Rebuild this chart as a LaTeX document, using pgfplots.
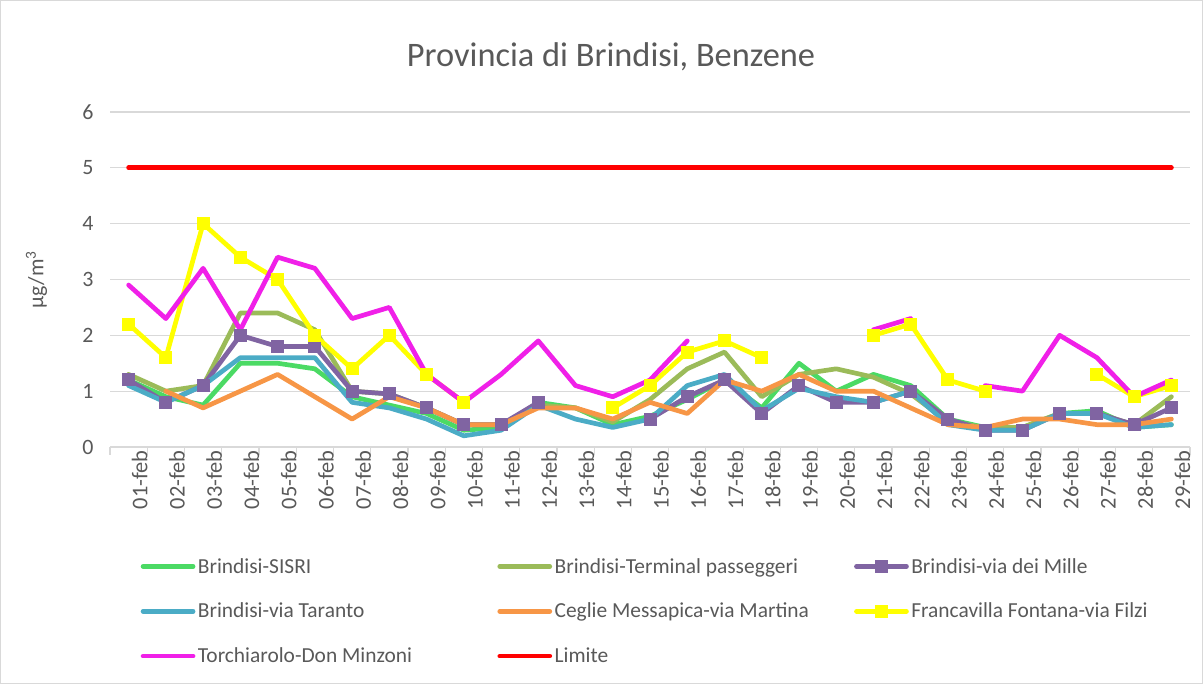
\documentclass[border=0pt]{standalone}
\usepackage{pgfplots}
\pgfplotsset{compat=1.18}
\usepackage{pgfplotstable}
\usepackage{fontspec}
\setmainfont{Carlito}
\definecolor{txt}{HTML}{595959}
\definecolor{gridc}{HTML}{D9D9D9}
\definecolor{cSISRI}{HTML}{4BDA64}
\definecolor{cTerm}{HTML}{9BBB59}
\definecolor{cMille}{HTML}{8064A2}
\definecolor{cTar}{HTML}{4BACC6}
\definecolor{cCeg}{HTML}{F79646}
\definecolor{cFra}{HTML}{FFFF00}
\definecolor{cTor}{HTML}{F020E8}
\definecolor{cLim}{HTML}{FF0000}

\pgfplotstableread{
day sisri term mille tar ceg fra tor lim
1  1.2  1.3  1.2  1.1  nan  2.2  2.9  5
2  0.9  1.0  0.8  0.8  1.0  1.6  2.3  5
3  0.75 1.1  1.1  1.1  0.7  4.0  3.2  5
4  1.5  2.4  2.0  1.6  1.0  3.4  2.1  5
5  1.5  2.4  1.8  1.6  1.3  3.0  3.4  5
6  1.4  2.1  1.8  1.6  0.9  2.0  3.2  5
7  0.9  1.0  1.0  0.8  0.5  1.4  2.3  5
8  0.75 0.95 0.95 0.7  0.9  2.0  2.5  5
9  0.6  0.7  0.7  0.5  0.7  1.3  1.3  5
10 0.3  0.4  0.4  0.2  0.4  0.8  0.8  5
11 0.35 0.4  0.4  0.3  0.4  nan  1.3  5
12 0.8  0.75 0.8  0.75 0.7  nan  1.9  5
13 0.7  0.7  nan  0.5  0.7  nan  1.1  5
14 0.4  0.45 nan  0.35 0.5  0.7  0.9  5
15 0.55 0.85 0.5  0.5  0.8  1.1  1.2  5
16 0.85 1.4  0.9  1.1  0.6  1.7  1.9  5
17 1.2  1.7  1.2  1.3  1.2  1.9  nan  5
18 0.7  0.9  0.6  0.65 1.0  1.6  nan  5
19 1.5  1.3  1.1  1.05 1.3  nan  nan  5
20 1.0  1.4  0.8  0.9  1.0  nan  nan  5
21 1.3  1.25 0.8  0.8  1.0  2.0  2.1  5
22 1.1  0.95 1.0  1.0  0.7  2.2  2.3  5
23 0.5  0.45 0.5  0.4  0.4  1.2  nan  5
24 0.35 0.35 0.3  0.3  0.35 1.0  1.1  5
25 0.35 0.35 0.3  0.3  0.5  nan  1.0  5
26 0.6  0.6  0.6  0.6  0.5  nan  2.0  5
27 0.65 0.6  0.6  0.6  0.4  1.3  1.6  5
28 0.35 0.4  0.4  0.35 0.4  0.9  0.9  5
29 0.4  0.9  0.7  0.4  0.5  1.1  1.2  5
}\data

\begin{document}
\begin{tikzpicture}[x=1bp,y=1bp]
\useasboundingbox (0,0) rectangle (1203,684);
\draw[color=gridc, line width=1.2bp] (0.6,0.6) rectangle (1202.4,683.4);
\node[anchor=base, font=\fontsize{34.5}{40}\selectfont, text=txt] at (611,617) {Provincia di Brindisi, Benzene};
\begin{axis}[
  at={(110bp,237bp)}, anchor=south west,
  scale only axis, width=1080bp, height=335bp,
  xmin=0.5, xmax=29.5, ymin=0, ymax=6,
  xtick={1,...,29},
  xticklabels={01-feb,02-feb,03-feb,04-feb,05-feb,06-feb,07-feb,08-feb,09-feb,10-feb,11-feb,12-feb,13-feb,14-feb,15-feb,16-feb,17-feb,18-feb,19-feb,20-feb,21-feb,22-feb,23-feb,24-feb,25-feb,26-feb,27-feb,28-feb,29-feb},
  minor xtick={0.5,1.5,...,29.5},
  ytick={0,1,...,6},
  major tick length=0pt,
  minor tick length=8bp,
  tick align=outside,
  minor tick style={color=gridc, line width=1.2bp},
  axis lines*=left,
  x axis line style={color=gridc, line width=2bp},
  y axis line style={draw=none},
  ymajorgrids,
  major grid style={color=gridc, line width=1.2bp},
  /pgf/number format/assume math mode=true,
  yticklabel style={font=\fontsize{22}{26}\selectfont, text=txt, xshift=-13bp},
  xticklabel style={font=\fontsize{22.5}{26}\selectfont, text=txt, rotate=90, anchor=east, yshift=-11bp},
  ylabel={µg/m\textsuperscript{3}},
  ylabel style={font=\fontsize{22}{26}\selectfont, text=txt, at={(axis description cs:-0.068,0.5)}, anchor=center, rotate=0},
  unbounded coords=jump,
  clip=false,
  every axis plot/.append style={line width=4.7bp, line join=round, line cap=round},
  legend columns=3,
  legend cell align=left,
  legend image code/.code={\draw[mark repeat=2,mark phase=2] plot coordinates {(0bp,0bp) (25bp,0bp) (50bp,0bp)};},
  legend style={draw=none, fill=none, at={(axis description cs:0.0255,-0.318)}, anchor=north west,
    font=\fontsize{21.5}{25}\selectfont, text=txt, column sep=0bp, row sep=23.5bp,
    nodes={inner sep=2.5bp}},
]
\addplot[color=cSISRI, no markers] table[x=day, y=sisri] {\data};
\addlegendentry{\makebox[297bp][l]{Brindisi-SISRI}}
\addplot[color=cTerm, no markers] table[x=day, y=term] {\data};
\addlegendentry{\makebox[297bp][l]{Brindisi-Terminal passeggeri}}
\addplot[color=cMille, mark=square*, mark size=6bp, mark options={solid, fill=cMille, line width=0bp}] table[x=day, y=mille] {\data};
\addlegendentry{\makebox[297bp][l]{Brindisi-via dei Mille}}
\addplot[color=cTar, no markers] table[x=day, y=tar] {\data};
\addlegendentry{\makebox[297bp][l]{Brindisi-via Taranto}}
\addplot[color=cCeg, no markers] table[x=day, y=ceg] {\data};
\addlegendentry{\makebox[297bp][l]{Ceglie Messapica-via Martina}}
\addplot[color=cFra, mark=square*, mark size=6bp, mark options={solid, fill=cFra, line width=0bp}] table[x=day, y=fra] {\data};
\addlegendentry{\makebox[297bp][l]{Francavilla Fontana-via Filzi}}
\addplot[color=cTor, no markers] table[x=day, y=tor] {\data};
\addlegendentry{\makebox[297bp][l]{Torchiarolo-Don Minzoni}}
\addplot[color=cLim, no markers] table[x=day, y=lim] {\data};
\addlegendentry{\makebox[297bp][l]{Limite}}
\end{axis}
\end{tikzpicture}
\end{document}
